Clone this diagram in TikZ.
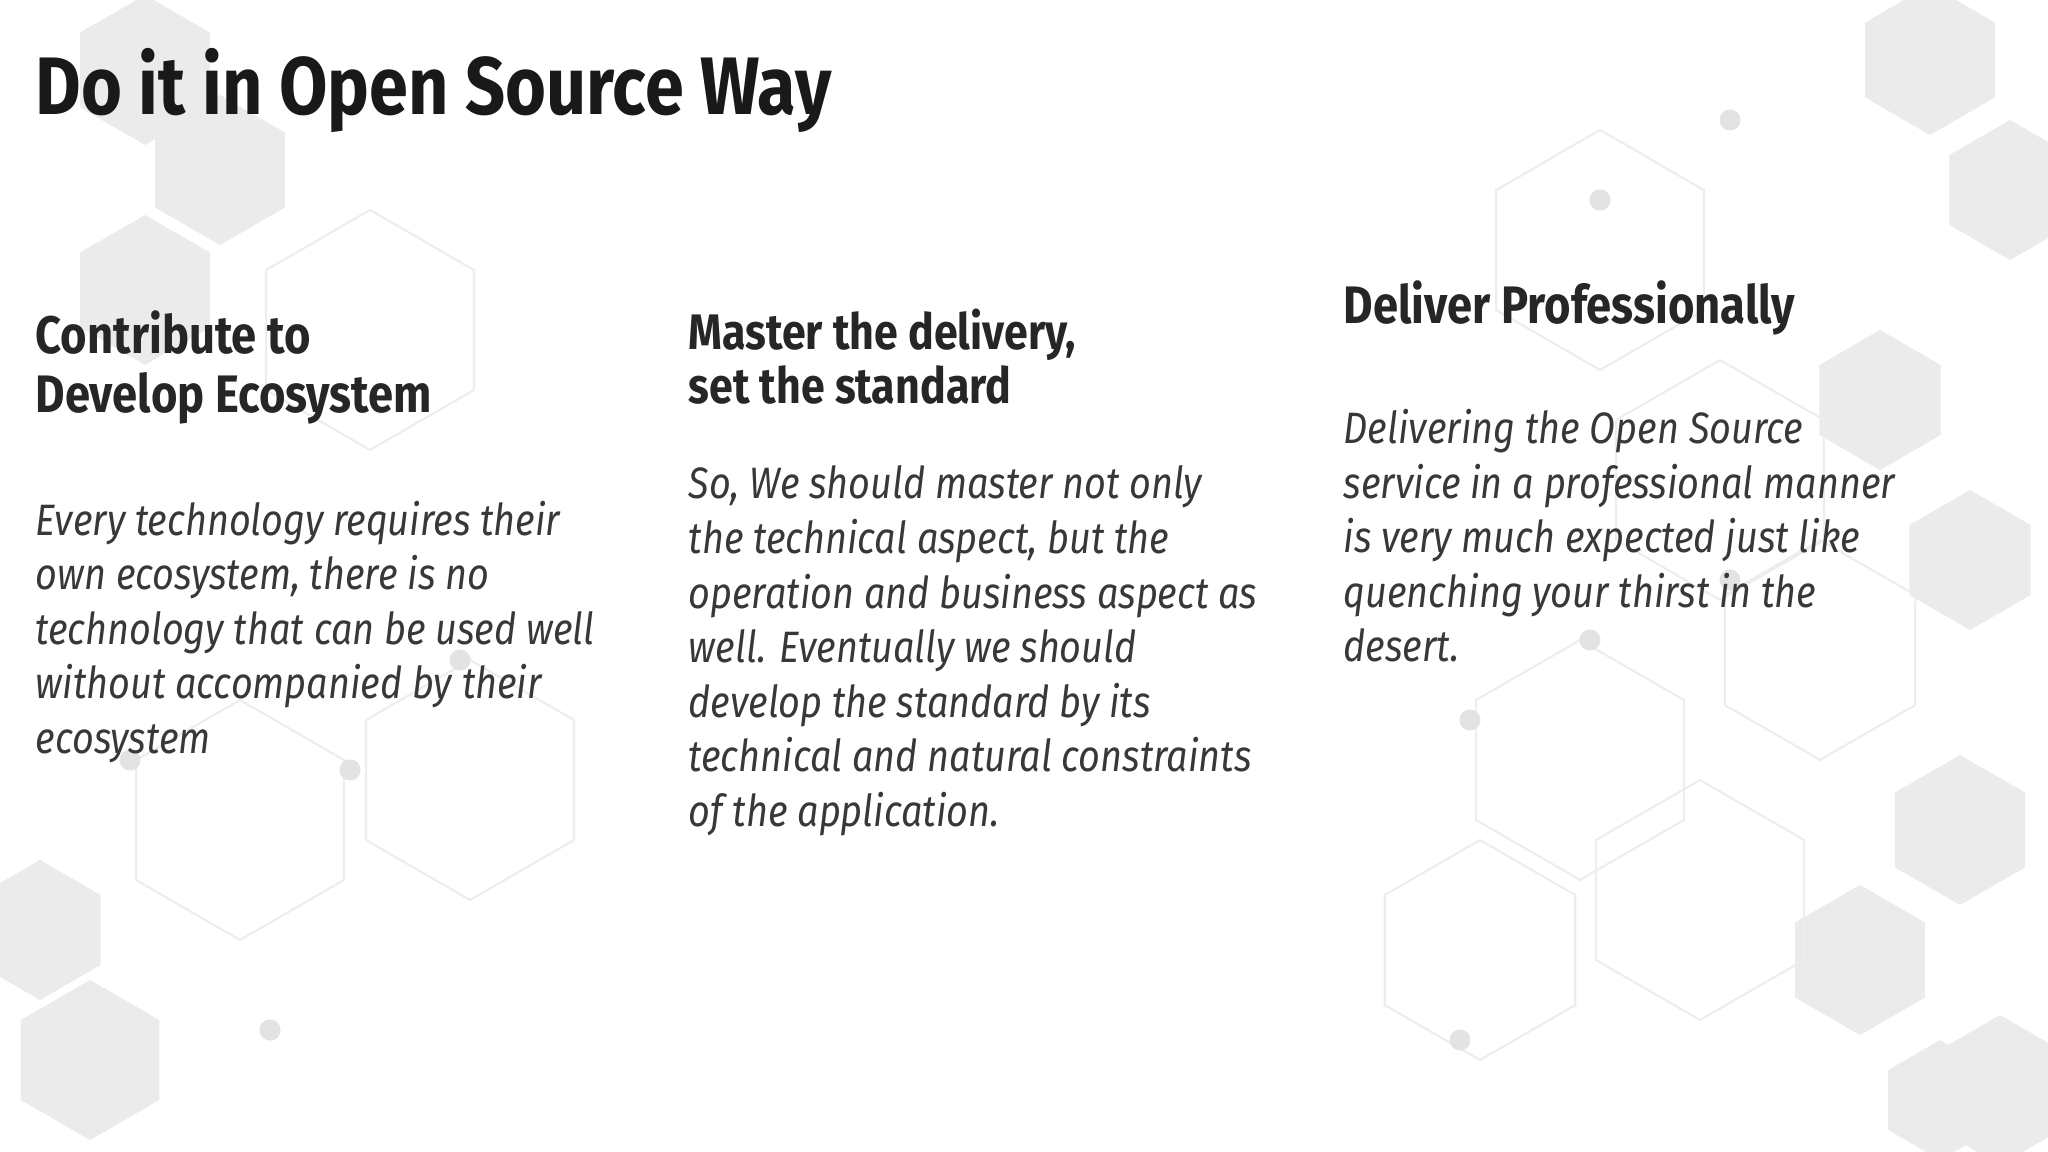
\documentclass[tikz,border=0pt]{standalone}
\usepackage{fontspec}
\setmainfont{Fira Sans}[FakeStretch=0.86]
\begin{document}
\begin{tikzpicture}[x=0.01cm,y=-0.01cm,
  ttl/.style={anchor=base west,inner sep=0,font=\fontsize{23.2}{27}\selectfont\bfseries,text=black!90},
  hd/.style={anchor=base west,inner sep=0,font=\fontsize{15}{18}\selectfont\bfseries,text=black!85},
  hdb/.style={hd,font=\fontsize{14.2}{17}\selectfont\bfseries},
  bd/.style={anchor=base west,inner sep=0,font=\fontsize{12.5}{15}\selectfont\itshape,text=black!78},
  hexf/.style={fill=black!8},
  hexl/.style={draw=black!7,line width=0.6pt},
  dotn/.style={circle,fill=black!11,inner sep=0,minimum size=6pt}]
\useasboundingbox (0,0) rectangle (2048,1152);
% background hexagons
\foreach \x/\y/\r in {145/70/75,220/170/75,145/290/75,1930/60/75,2010/190/70,1880/400/70,1970/560/70,1960/830/75,1860/960/75,2000/1090/75,1940/1100/60,90/1060/80,40/930/70}{
  \fill[hexf] (\x,\y) +(90:\r) -- +(150:\r) -- +(210:\r) -- +(270:\r) -- +(330:\r) -- +(30:\r) -- cycle;}
\foreach \x/\y/\r in {370/330/120,240/820/120,470/780/120,1600/250/120,1720/480/120,1580/760/120,1700/900/120,1480/950/110,1820/650/110}{
  \draw[hexl] (\x,\y) +(90:\r) -- +(150:\r) -- +(210:\r) -- +(270:\r) -- +(330:\r) -- +(30:\r) -- cycle;}
\foreach \x/\y in {350/770,460/660,270/1030,1590/640,1730/580,1460/1040,1730/120,1600/200,1470/720,130/760}{\node[dotn] at (\x,\y) {};}
% title
\node[ttl] (t) at (35,115) {Do it in Open Source Way};
% column 1
\node[hd] (h1a) at (35,354) {Contribute to};
\node[hd] (h1b) at (35,413) {Develop Ecosystem};
\foreach \t [count=\i from 0] in {Every technology requires their,{own ecosystem, there is no},technology that can be used well,without accompanied by their,ecosystem}
  \node[bd] (a\i) at (35,535+54.5*\i) {\t};
% column 2
\node[hdb] (h2a) at (688,350) {Master the delivery,};
\node[hdb] (h2b) at (688,404) {set the standard};
\foreach \t [count=\i from 0] in {{So, We should master not only},{the technical aspect, but the},operation and business aspect as,well. Eventually we should,develop the standard by its,technical and natural constraints,of the application.}
  \node[bd] (b\i) at (688,499+54.5*\i) {\t};
% column 3
\node[hd] (h3) at (1343,324) {Deliver Professionally};
\foreach \t [count=\i from 0] in {Delivering the Open Source,service in a professional manner,is very much expected just like,quenching your thirst in the,desert.}
  \node[bd] (c\i) at (1343,444+54.5*\i) {\t};
\end{tikzpicture}
\end{document}
